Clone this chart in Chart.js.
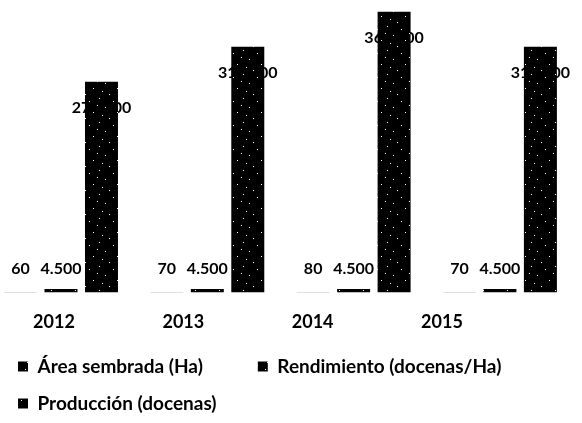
<!DOCTYPE html>
<html lang="es">
<head>
<meta charset="utf-8">
<title>Producción por año</title>
<script src="https://cdn.jsdelivr.net/npm/chart.js@4.4.1/dist/chart.umd.min.js"></script>
<style>
  html, body { margin: 0; padding: 0; background: #fff; }
  #wrap { position: relative; width: 582px; height: 423px; }
</style>
</head>
<body>
<div id="wrap"><canvas id="produccionChart"></canvas></div>
<script>
const years = ['2012', '2013', '2014', '2015'];
const areaSembrada = [60, 70, 80, 70];
const rendimiento = [4500, 4500, 4500, 4500];
const produccion = [270000, 315000, 360000, 315000];
const seriesNames = ['Área sembrada (Ha)', 'Rendimiento (docenas/Ha)', 'Producción (docenas)'];

// black fill with a few white specks, like a photocopied bar
function speckle() {
    const tile = document.createElement('canvas');
    tile.width = 24;
    tile.height = 24;
    const c = tile.getContext('2d');
    c.fillStyle = '#000';
    c.fillRect(0, 0, 24, 24);
    c.fillStyle = '#fff';
    [[3, 2], [17, 5], [9, 11], [21, 16], [6, 19], [13, 22], [1, 9]].forEach(p => c.fillRect(p[0], p[1], 1, 1));
    return c.createPattern(tile, 'repeat');
}
const fill = speckle();

const toPoints = arr => arr.map((v, i) => ({ x: i, y: v }));
const fmt = v => String(v).replace(/\B(?=(\d{3})+(?!\d))/g, '.');
const yearTicks = scale => { scale.ticks = years.map((_, i) => ({ value: i })); };

// value labels go under the bars, so the tall bars hide part of their own number
const valueLabels = {
    id: 'valueLabels',
    beforeDatasetsDraw(chart) {
        const ctx = chart.ctx;
        ctx.save();
        ctx.font = 'bold 16px Lato';
        ctx.fillStyle = '#000';
        ctx.textAlign = 'center';
        ctx.textBaseline = 'middle';
        chart.data.datasets.forEach((ds, i) => {
            chart.getDatasetMeta(i).data.forEach((bar, j) => {
                const tall = bar.base - bar.y > 40;
                ctx.fillText(fmt(ds.data[j].y), bar.x, tall ? bar.y + 26 : bar.base - 24);
            });
        });
        ctx.restore();
    }
};

const ctx = document.getElementById('produccionChart').getContext('2d');

new Chart(ctx, {
    type: 'bar',
    data: {
        datasets: [areaSembrada, rendimiento, produccion].map((arr, i) => ({
            label: seriesNames[i],
            data: toPoints(arr),
            backgroundColor: fill,
            borderWidth: 0,
            categoryPercentage: 0.83,
            barPercentage: 0.815,
        }))
    },
    options: {
        responsive: true,
        maintainAspectRatio: false,
        animation: false,
        scales: {
            x: {
                type: 'linear',
                display: false,
                offset: false,
                min: -0.417,
                max: 3.561,
                afterBuildTicks: yearTicks,
            },
            x2: {
                type: 'linear',
                position: 'bottom',
                offset: false,
                min: -0.4176,
                max: 4.083,
                afterBuildTicks: yearTicks,
                afterFit: scale => { scale.height -= 13; },
                grid: { display: false, drawTicks: false },
                border: { display: false },
                ticks: {
                    callback: v => years[v],
                    color: '#000',
                    font: { family: 'Lato', size: 18, weight: 'bold' },
                    padding: 19,
                    maxRotation: 0,
                    autoSkip: false,
                }
            },
            y: { display: false, min: 0, max: 375000 }
        },
        plugins: {
            legend: {
                position: 'bottom',
                align: 'start',
                labels: {
                    color: '#000',
                    boxWidth: 10,
                    boxHeight: 10,
                    padding: 18,
                    font: { family: 'Lato', size: 19, weight: 'bold' },
                    // wider slot after the first entry
                    generateLabels: chart => Chart.defaults.plugins.legend.labels.generateLabels(chart)
                        .map((item, i) => i === 0 ? { ...item, text: item.text + ' '.repeat(8) } : item),
                }
            },
            tooltip: { enabled: false }
        }
    },
    plugins: [valueLabels]
});
</script>
</body>
</html>
